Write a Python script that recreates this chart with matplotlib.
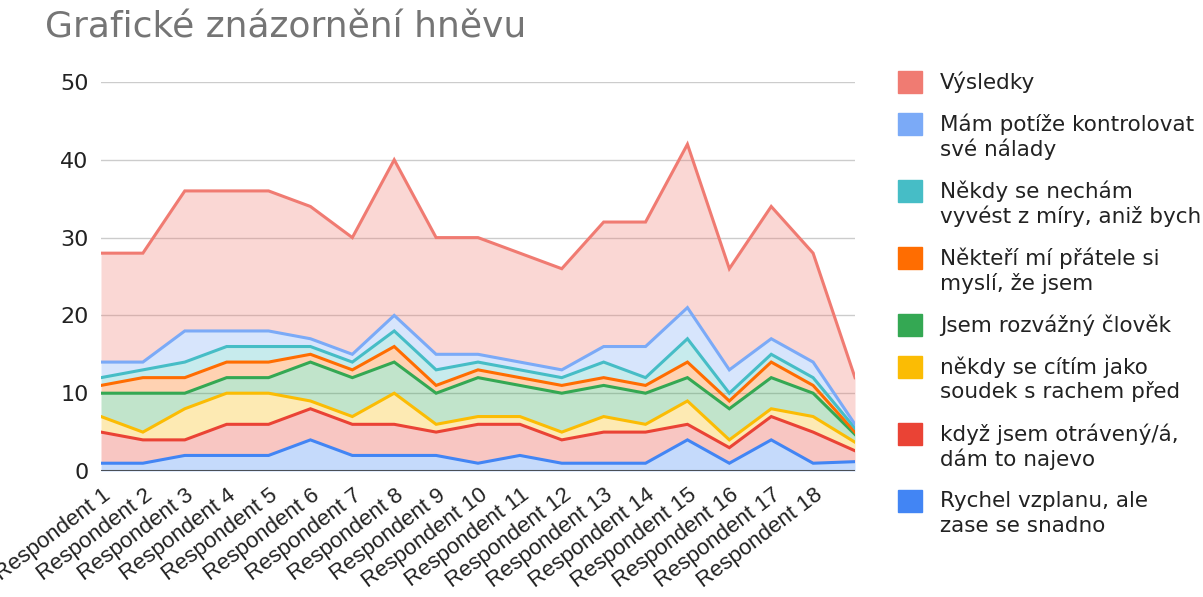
import matplotlib.pyplot as plt
import matplotlib.transforms as mtransforms
from matplotlib.patches import Rectangle
import numpy as np

plt.rcParams['font.family'] = ['DejaVu Sans']

# popisky respondentu (posledni bod nema popisek)
respondenti = ["Respondent 1", "Respondent 2", "Respondent 3", "Respondent 4",
               "Respondent 5", "Respondent 6", "Respondent 7", "Respondent 8",
               "Respondent 9", "Respondent 10", "Respondent 11", "Respondent 12",
               "Respondent 13", "Respondent 14", "Respondent 15", "Respondent 16",
               "Respondent 17", "Respondent 18", ""]

# hodnoty jednotlivych otazek (odspodu nahoru)
rychel = [1, 1, 2, 2, 2, 4, 2, 2, 2, 1, 2, 1, 1, 1, 4, 1, 4, 1, 1.2]
otraveny = [4, 3, 2, 4, 4, 4, 4, 4, 3, 5, 4, 3, 4, 4, 2, 2, 3, 4, 1.4]
soudek = [2, 1, 4, 4, 4, 1, 1, 4, 1, 1, 1, 1, 2, 1, 3, 1, 1, 2, 1.1]
rozvazny = [3, 5, 2, 2, 2, 5, 5, 4, 4, 5, 4, 5, 4, 4, 3, 4, 4, 3, 1.0]
pratele = [1, 2, 2, 2, 2, 1, 1, 2, 1, 1, 1, 1, 1, 1, 2, 1, 2, 1, 0.3]
necham = [1, 1, 2, 2, 2, 1, 1, 2, 2, 1, 1, 1, 2, 1, 3, 1, 1, 1, 0.5]
potize = [2, 1, 4, 2, 2, 1, 1, 2, 2, 1, 1, 1, 2, 4, 4, 3, 2, 2, 0.5]
vysledky = [14, 14, 18, 18, 18, 17, 15, 20, 15, 15, 14, 13, 16, 16, 21, 13, 17, 14, 6]

serie = [rychel, otraveny, soudek, rozvazny, pratele, necham, potize, vysledky]
barvy = ["#4285F4", "#EA4335", "#FBBC04", "#34A853", "#FF6D01", "#46BDC6", "#7BAAF7", "#F07B72"]
nazvy = ["Rychel vzplanu, ale\nzase se snadno",
         "když jsem otrávený/á,\ndám to najevo",
         "někdy se cítím jako\nsoudek s rachem před",
         "Jsem rozvážný člověk",
         "Někteří mí přátele si\nmyslí, že jsem",
         "Někdy se nechám\nvyvést z míry, aniž bych",
         "Mám potíže kontrolovat\nsvé nálady",
         "Výsledky"]

W, H = 1203, 597
fig = plt.figure(figsize=(W / 100, H / 100), dpi=100)
ax = fig.add_axes([101 / W, 1 - 471 / H, (855 - 101) / W, (471 - 82) / H])

x = np.arange(len(respondenti))
kumul = np.cumsum(np.array(serie), axis=0)
spodek = np.zeros(len(x))
for i in range(len(serie)):
    ax.fill_between(x, spodek, kumul[i], color=barvy[i], alpha=0.3, lw=0, zorder=2)
    spodek = kumul[i]
for i in range(len(serie)):
    ax.plot(x, kumul[i], color=barvy[i], lw=2.2, zorder=3, solid_joinstyle='miter')

ax.set_xlim(0, len(x) - 1)
ax.set_ylim(0, 50)
ax.set_yticks([0, 10, 20, 30, 40, 50])
ax.grid(axis='y', color='#cccccc', lw=1, zorder=0)
ax.axhline(0, color='#4a4f57', lw=1.5, zorder=4)
for s in ax.spines.values():
    s.set_visible(False)
ax.tick_params(axis='y', length=0, labelsize=16, colors='#222222', pad=9)
ax.tick_params(axis='x', length=0, colors='#222222')

ax.set_xticks(x)
ax.set_xticklabels(respondenti, rotation=37, ha='right', va='center', rotation_mode='anchor',
                   fontsize=16, family=['Liberation Sans', 'DejaVu Sans'])
posun = mtransforms.ScaledTranslation(0.07, -0.17, fig.dpi_scale_trans)
for lab in ax.get_xticklabels():
    lab.set_transform(lab.get_transform() + posun)

fig.text(45 / W, 1 - 28 / H, "Grafické znázornění hněvu", fontsize=26,
         color='#757575', va='center', ha='left')

# legenda vpravo
y = 82
for i in range(len(serie) - 1, -1, -1):
    fig.add_artist(Rectangle((898 / W, 1 - (y + 11) / H), 24 / W, 22 / H,
                             color=barvy[i], transform=fig.transFigure))
    radky = nazvy[i].split("\n")
    for j, r in enumerate(radky):
        fig.text(940 / W, 1 - (y + 25 * j) / H, r, fontsize=15.5, color='#222222',
                 va='center', ha='left')
    y += 42 + 25 * (len(radky) - 1)

plt.savefig("out.png", dpi=100)
